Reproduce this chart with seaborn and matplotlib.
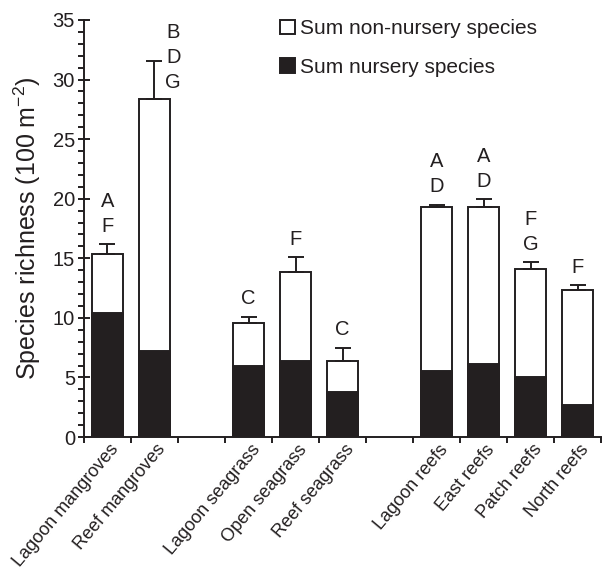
import numpy as np
import pandas as pd
import matplotlib
matplotlib.use("Agg")
import matplotlib.pyplot as plt
from matplotlib.patches import Patch
import seaborn as sns

# ---- data ----
sites = ["Lagoon mangroves", "Reef mangroves",
         "Lagoon seagrass", "Open seagrass", "Reef seagrass",
         "Lagoon reefs", "East reefs", "Patch reefs", "North reefs"]
total_species = [15.4, 28.4, 9.6, 13.85, 6.4, 19.3, 19.3, 14.1, 12.3]
nursery_species = [10.4, 7.2, 6.0, 6.35, 3.8, 5.5, 6.1, 5.0, 2.7]
error_up = [0.8, 3.2, 0.5, 1.25, 1.1, 0.2, 0.65, 0.6, 0.45]
letters = ["A\nF", "B\nD\nG", "C", "F", "C", "A\nD", "A\nD", "F\nG", "F"]
order = ["Lagoon mangroves", "Reef mangroves", "gap1",
         "Lagoon seagrass", "Open seagrass", "Reef seagrass", "gap2",
         "Lagoon reefs", "East reefs", "Patch reefs", "North reefs"]
legend_labels = ["Sum non-nursery species", "Sum nursery species"]

df = pd.DataFrame({"site": sites, "total": total_species,
                   "nursery": nursery_species, "err": error_up})

sns.set_theme(style="ticks")
plt.rcParams["font.family"] = ["Liberation Sans", "DejaVu Sans"]
plt.rcParams["mathtext.fontset"] = "custom"
plt.rcParams["mathtext.rm"] = "Liberation Sans"
plt.rcParams["mathtext.it"] = "Liberation Sans:italic"
plt.rcParams["mathtext.bf"] = "Liberation Sans:bold"

ink = "#231f20"
fig = plt.figure(figsize=(6.03, 5.73), dpi=100)
ax = fig.add_axes([0.1393, 0.2373, 0.8574, 0.7278])

lw = 1.4
sns.barplot(data=df, x="site", y="total", order=order, color="white",
            edgecolor=ink, linewidth=lw, width=0.66, saturation=1,
            errorbar=None, ax=ax)
sns.barplot(data=df, x="site", y="nursery", order=order, color=ink,
            edgecolor=ink, linewidth=lw, width=0.66, saturation=1,
            errorbar=None, ax=ax)

pos = np.array([order.index(s) for s in sites], dtype=float)
tot = np.array(total_species)
err = np.array(error_up)
ax.errorbar(pos, tot, yerr=[np.zeros_like(err), err], fmt="none",
            ecolor=ink, elinewidth=lw, capsize=6, capthick=lw, zorder=1)

for p, t, e, lab, s in zip(pos, tot, err, letters, sites):
    if s == "Reef mangroves":
        xy, off = (p + 0.40, t), (0, 5)
    else:
        xy, off = (p, t + e), (0, 6)
    ax.annotate(lab, xy=xy, xytext=off, textcoords="offset points",
                ha="center", va="bottom", fontsize=14.5, linespacing=1.4,
                color=ink)

ax.set_xlim(-0.5, len(order) - 0.5)
ax.set_ylim(0, 35)
ax.set_yticks(np.arange(0, 36, 5))
ax.set_yticks(np.arange(0, 36, 1), minor=True)
ax.set_xticks(np.arange(-0.5, len(order), 1))
ax.set_xticklabels([])
ax.set_xticks(pos + 0.04, minor=True)
ax.set_xticklabels(sites, minor=True, rotation=50, ha="right",
                   rotation_mode="anchor", fontsize=13, color=ink)
ax.tick_params(axis="x", which="major", direction="out", length=4,
               width=lw, color=ink)
ax.tick_params(axis="x", which="minor", length=0, pad=3)
ax.tick_params(axis="y", which="major", direction="inout", length=9,
               width=lw, labelsize=14.5, pad=2, color=ink, labelcolor=ink)
ax.tick_params(axis="y", which="minor", direction="out", length=4,
               width=lw, color=ink)
sns.despine(ax=ax)
for sp in ["left", "bottom"]:
    ax.spines[sp].set_linewidth(lw)
    ax.spines[sp].set_color(ink)

ax.set_xlabel("")
ax.set_ylabel("Species richness (100 m$^{-2}$)", fontsize=18, color=ink)
ax.yaxis.set_label_coords(-0.08, 0.5)

handles = [Patch(facecolor="white", edgecolor=ink, linewidth=lw),
           Patch(facecolor=ink, edgecolor=ink, linewidth=lw)]
fig.legend(handles, legend_labels, loc="upper left",
           bbox_to_anchor=(0.465, 0.966), frameon=False, fontsize=15,
           handlelength=0.7, handleheight=0.7, handletextpad=0.25,
           labelspacing=0.93, borderpad=0, borderaxespad=0,
           labelcolor=ink)

fig.savefig("out.png", dpi=100)
